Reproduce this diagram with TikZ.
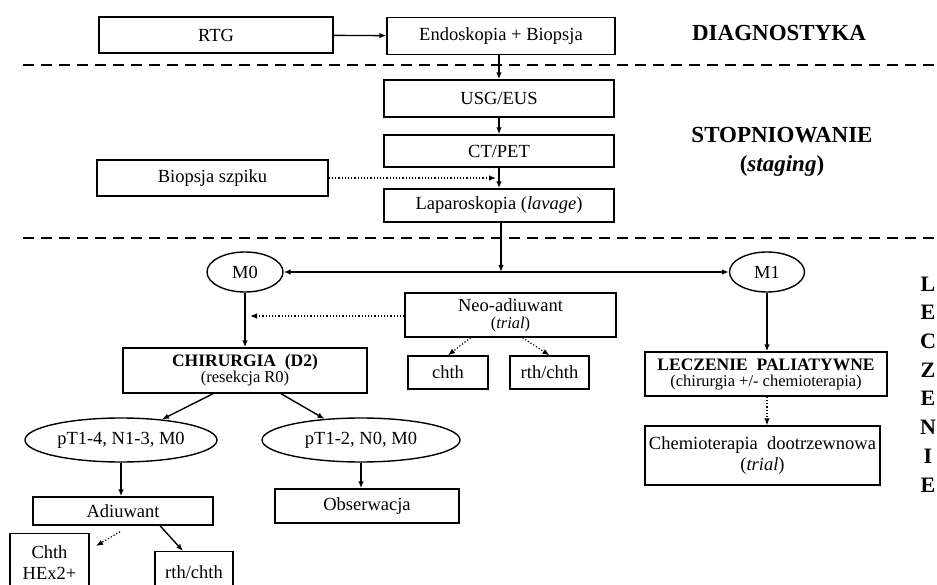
\documentclass[tikz,border=0pt]{standalone}
\usepackage{fontspec}
\setmainfont{Liberation Serif}
\usepackage{tikz}
\usetikzlibrary{arrows.meta,shapes.geometric}
\newcommand{\subtxt}[1]{{\fontsize{16.5}{18}\selectfont #1}}
\newcommand{\headtxt}[1]{{\fontsize{17.5}{19}\selectfont\bfseries #1}}

\begin{document}
\begin{tikzpicture}[x=1pt, y=-1pt, line width=1.4pt,
  box/.style={draw, rectangle, inner sep=2pt, align=center, font=\fontsize{18.5}{21}\selectfont},
  oval/.style={draw, ellipse, inner sep=0pt, font=\fontsize{18.5}{21}\selectfont},
  sect/.style={font=\fontsize{23}{29}\selectfont\bfseries, align=center, inner sep=0pt},
  arr/.style={-{Latex[length=7pt,width=5.5pt]}},
  dotarr/.style={arr, dotted, line width=1.2pt},
  sepline/.style={dash pattern=on 11pt off 7pt, line width=1.8pt}]
  \clip (0,0) rectangle (937,585);

  % diagnostyka
  \node[box, minimum width=234, minimum height=36] (rtg) at (216,35) {RTG};
  \node[box, minimum width=228, minimum height=37] (endo) at (501,36) {Endoskopia\ + Biopsja};
  \node[sect] (diag) at (779,33) {DIAGNOSTYKA};
  \draw[sepline] (23,65) -- (937,65);

  % stopniowanie
  \node[box, minimum width=230, minimum height=37] (usg) at (499,98.5) {USG/EUS};
  \node[box, minimum width=230, minimum height=32] (ct) at (499,151) {CT/PET};
  \node[box, minimum width=231, minimum height=36] (bsz) at (212.5,178) {Biopsja szpiku};
  \node[box, minimum width=230, minimum height=33] (lap) at (499,205.5) {Laparoskopia (\textit{lavage})};
  \node[sect] (stop) at (782,152) {STOPNIOWANIE\\(\textit{staging})};
  \draw[sepline] (23,238) -- (937,238);
  \coordinate (bsztip) at (496,178);

  % leczenie
  \coordinate (split) at (501,272);
  \node[oval, minimum width=76, minimum height=40] (m0) at (245,272) {M0};
  \node[oval, minimum width=75, minimum height=40] (m1) at (767,272) {M1};
  \node[box, minimum width=211, minimum height=44] (neo) at (510.5,315) {Neo-adiuwant\\[-4pt]\subtxt{(\textit{trial})}};
  \coordinate (neotip) at (250,316);
  \node[box, minimum width=244, minimum height=45] (chir) at (245,370.5) {\headtxt{CHIRURGIA\ \ (D2)}\\[-5pt]\subtxt{(resekcja R0)}};
  \node[box, minimum width=80, minimum height=33] (chthA) at (448,372.5) {chth};
  \node[box, minimum width=79, minimum height=33] (rthA) at (549.5,372.5) {rth/chth};
  \node[box, minimum width=242, minimum height=44] (pal) at (766,374) {\headtxt{LECZENIE\ \ PALIATYWNE}\\[-5pt]\subtxt{(chirurgia +/- chemioterapia)}};
  \node[box, minimum width=235, minimum height=59] (chemio) at (762.5,455.5) {Chemioterapia\ \ dootrzewnowa\\(\textit{trial})};
  \node[oval, minimum width=192, minimum height=44] (pt14) at (121,440) {pT1-4, N1-3, M0};
  \node[oval, minimum width=198, minimum height=44] (pt12) at (361,440) {pT1-2, N0, M0};
  \node[box, minimum width=180, minimum height=28] (adiu) at (123,511) {Adiuwant};
  \node[box, minimum width=184, minimum height=34] (obs) at (367,506) {Obserwacja};
  \node[box, minimum width=79, minimum height=58, anchor=north] (chthB) at (49.5,533) {Chth\\HEx2+};
  \node[box, minimum width=78, minimum height=40, anchor=north] (rthB) at (194,551) {rth/chth};
  \coordinate (chtip) at (96,546);
  \node[sect, anchor=north, font=\fontsize{22}{28.7}\selectfont\bfseries] (lecz) at (928,276) {L\\E\\C\\Z\\E\\N\\I\\E};

  % connectors
  \draw[arr] (rtg) -- (endo);
  \draw[arr] (endo.south -| usg.north) -- (usg);
  \draw[arr] (usg) -- (ct);
  \draw[arr] (ct) -- (lap);
  \draw[dotarr] (bsz) -- (bsztip);
  \draw[arr] (lap.south -| split) -- (split);
  \draw[arr] (split) -- (m0);
  \draw[arr] (split) -- (m1);
  \draw[dotarr] (neo.west |- neotip) -- (neotip);
  \draw[arr] (m0) -- (chir);
  \draw[dotarr] ([xshift=-40pt]neo.south) -- (chthA.north);
  \draw[dotarr] ([xshift=12pt]neo.south) -- (rthA.north);
  \draw[arr] (m1) -- (m1 |- pal.north);
  \draw[dotarr] (pal.south -| m1) -- (chemio.north -| m1);
  \draw[arr] ([xshift=-32pt]chir.south) -- (pt14);
  \draw[arr] ([xshift=36pt]chir.south) -- (pt12);
  \draw[arr] (pt14.south) -- (pt14.south |- adiu.north);
  \draw[arr] (pt12.south) -- (pt12.south |- obs.north);
  \draw[dotarr] ([shift={(-3pt,-6pt)}]adiu.south) -- (chtip);
  \draw[arr] ([xshift=37pt]adiu.south) -- ([xshift=-11pt]rthB.north);
\end{tikzpicture}
\end{document}
